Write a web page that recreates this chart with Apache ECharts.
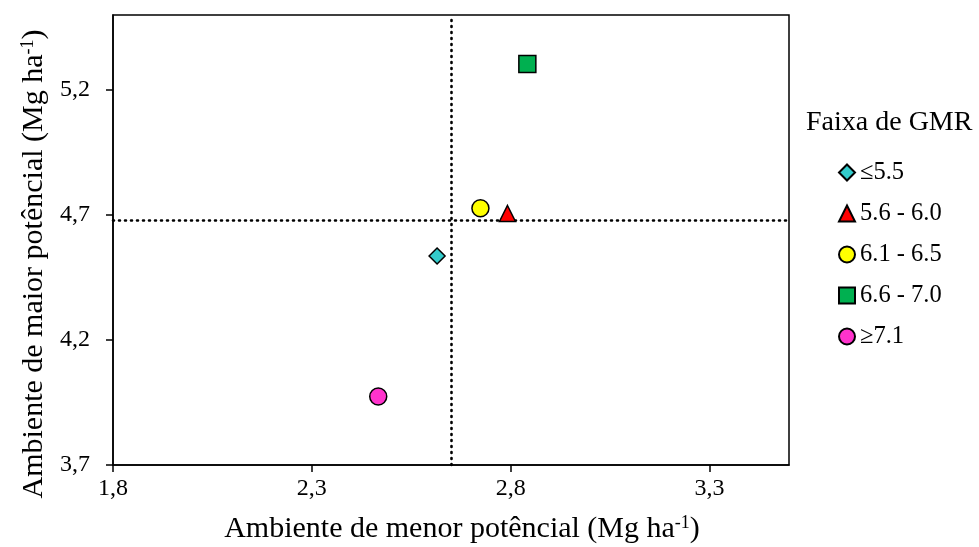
<!DOCTYPE html>
<html>
<head>
<meta charset="utf-8">
<script src="https://cdn.jsdelivr.net/npm/echarts@6/dist/echarts.min.js"></script>
<style>
  html, body { margin: 0; padding: 0; background: #fff; }
  #chart { width: 979px; height: 547px; }
</style>
</head>
<body>
<div id="chart"></div>
<script>
// GMR classes and their yields (Mg ha-1) in the lower / higher potential environments
const classes = ['≤5.5', '5.6 - 6.0', '6.1 - 6.5', '6.6 - 7.0', '≥7.1'];
const lowerEnv = [2.615, 2.792, 2.724, 2.842, 2.467];
const higherEnv = [4.536, 4.706, 4.727, 5.304, 3.974];
const markerShapes = ['diamond', 'triangle', 'circle', 'rect', 'circle'];
const markerSizes = [16, 16, 17, 17, 17];
const markerColors = ['#33CCCC', '#FF0000', '#FFFF00', '#00B050', '#FF33CC'];

// Mean yields in each environment (reference lines)
const meanLower = 2.647;
const meanHigher = 4.679;

// Axis ranges and tick labels
const xRange = [1.8, 3.5];
const yRange = [3.7, 5.5];
const xTicks = [1.8, 2.3, 2.8, 3.3];
const yTicks = [3.7, 4.2, 4.7, 5.2];

// Axis titles
const xTitle = 'Ambiente de menor potêncial (Mg ha{sup|-1})';
const yTitle = 'Ambiente de maior potêncial (Mg ha{sup|-1})';

const serif = '"Liberation Serif", "DejaVu Serif", serif';
const fmt = v => Number(v).toFixed(1).replace('.', ',');

const chart = echarts.init(document.getElementById('chart'), null, { renderer: 'canvas' });

const series = classes.map((name, i) => ({
  name: name,
  type: 'scatter',
  symbol: markerShapes[i],
  symbolSize: markerSizes[i],
  itemStyle: { color: markerColors[i], borderColor: '#000', borderWidth: 1.5, opacity: 1 },
  data: [[lowerEnv[i], higherEnv[i]]],
  z: 5
}));

series[0].markLine = {
  silent: true,
  symbol: 'none',
  label: { show: false },
  lineStyle: { color: '#000', type: [1, 5], width: 2.6, cap: 'round' },
  emphasis: { disabled: true },
  data: [{ xAxis: meanLower }, { yAxis: meanHigher }],
  z: 1
};

const titleRich = {
  sup: { fontFamily: serif, fontSize: 18, verticalAlign: 'top', lineHeight: 18, fill: '#000', padding: [0, 0, 12, 0] }
};

function axisTitle(text, x, y, rotation) {
  return {
    type: 'text',
    x: x,
    y: y,
    rotation: rotation,
    silent: true,
    style: {
      text: text,
      fontFamily: serif,
      fontSize: 30,
      fill: '#000',
      align: 'center',
      verticalAlign: 'middle',
      rich: titleRich
    }
  };
}

chart.setOption({
  animation: false,
  backgroundColor: '#fff',
  textStyle: { fontFamily: serif, color: '#000' },
  title: {
    text: 'Faixa de GMR',
    left: 806,
    top: 109,
    padding: 0,
    textStyle: { fontFamily: serif, fontSize: 28, fontWeight: 'normal', color: '#000' }
  },
  legend: {
    orient: 'vertical',
    left: 838,
    top: 160,
    padding: 0,
    itemWidth: 16,
    itemHeight: 16,
    itemGap: 16,
    textStyle: { fontFamily: serif, fontSize: 24.5, color: '#000' },
    data: classes.map((c, i) => ({ name: c, icon: markerShapes[i] }))
  },
  graphic: [
    axisTitle(xTitle, 462, 529, 0),
    axisTitle(yTitle, 34, 264, Math.PI / 2)
  ],
  grid: { left: 113, right: 190, top: 15, bottom: 82, show: true, borderColor: '#000', borderWidth: 1.5 },
  xAxis: {
    type: 'value',
    min: xRange[0],
    max: xRange[1],
    axisLine: { show: true, onZero: false, lineStyle: { color: '#000', width: 1.5 } },
    axisTick: { show: true, inside: false, length: 7, lineStyle: { color: '#000', width: 1.5 }, customValues: xTicks },
    axisLabel: { fontFamily: serif, fontSize: 24, color: '#000', margin: 12, formatter: fmt, customValues: xTicks },
    splitLine: { show: false }
  },
  yAxis: {
    type: 'value',
    min: yRange[0],
    max: yRange[1],
    axisLine: { show: true, onZero: false, lineStyle: { color: '#000', width: 1.5 } },
    axisTick: { show: true, inside: false, length: 7, lineStyle: { color: '#000', width: 1.5 }, customValues: yTicks },
    axisLabel: { fontFamily: serif, fontSize: 24, color: '#000', margin: 23, formatter: fmt, customValues: yTicks },
    splitLine: { show: false }
  },
  series: series
});
</script>
</body>
</html>
